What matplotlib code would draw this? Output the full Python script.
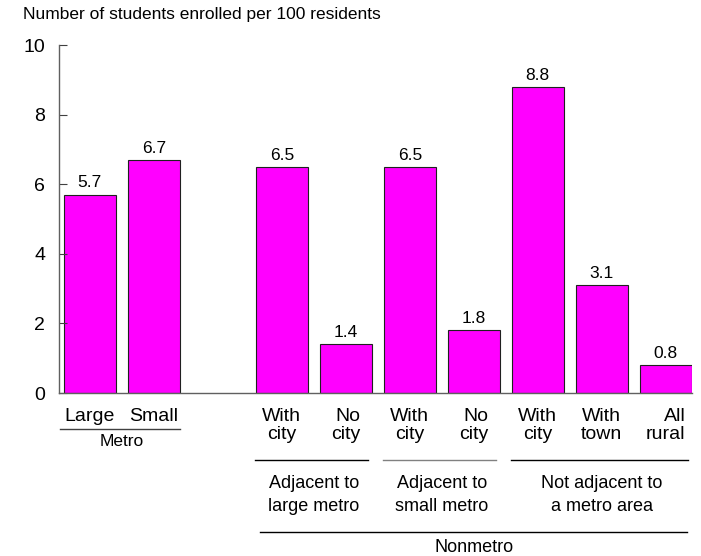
import matplotlib.pyplot as plt
from matplotlib.transforms import blended_transform_factory

plt.rcParams['font.family'] = ['Liberation Sans', 'DejaVu Sans']

# data
positions = [0, 1, 3, 4, 5, 6, 7, 8, 9]
values = [5.7, 6.7, 6.5, 1.4, 6.5, 1.8, 8.8, 3.1, 0.8]
bar_labels = ['Large', 'Small', 'With\ncity', 'No\ncity', 'With\ncity', 'No\ncity',
              'With\ncity', 'With\ntown', 'All\nrural']
label_align = ['center', 'center', 'center', 'right', 'center', 'right',
               'center', 'center', 'right']
groups = ['Adjacent to\nlarge metro', 'Adjacent to\nsmall metro', 'Not adjacent to\na metro area']
group_members = [(2, 3), (4, 5), (6, 8)]
group_line_colors = ['black', '#808080', 'black']

W, H = 701, 556
width = 0.81

fig = plt.figure(figsize=(W / 100, H / 100), dpi=100)
ax = fig.add_axes([59 / W, 1 - 393 / H, (692 - 59) / W, (393 - 45) / H])

bars = ax.bar(positions, values, width=width, color='#FF00FF', edgecolor='#202020', linewidth=0.8)
for p, v in zip(positions, values):
    ax.annotate(f'{v}', (p, v), xytext=(0, 3), textcoords='offset points',
                ha='center', va='bottom', fontsize=12.5)

ax.set_xlim(positions[0] - width / 2 - 0.077, positions[-1] + width / 2 + 0.005)
ax.set_ylim(0, 10)
ax.set_yticks([0, 2, 4, 6, 8, 10])
ax.tick_params(axis='y', direction='in', length=6, width=0.8, color='#404040',
               labelsize=14, pad=10)
ax.tick_params(axis='x', length=0)
ax.set_xticks([])
for s in ['top', 'right']:
    ax.spines[s].set_visible(False)
for s in ['left', 'bottom']:
    ax.spines[s].set_color('#606060')
    ax.spines[s].set_linewidth(1.0)

fig.text(23 / W, 1 - 15 / H, 'Number of students enrolled per 100 residents',
         fontsize=12.5, ha='left', va='center')

tr = blended_transform_factory(ax.transData, fig.transFigure)


def fy(py):
    return 1 - py / H


for p, lab, al in zip(positions, bar_labels, label_align):
    ax.text(p, fy(408), lab, transform=tr, ha='center', va='top', fontsize=14,
            multialignment=al, linespacing=1.1)

# metro
ax.plot([positions[0] - width / 2 - 0.06, positions[1] + width / 2], [fy(429), fy(429)],
        transform=tr, color='#404040', lw=1, clip_on=False)
ax.text((positions[0] + positions[1]) / 2, fy(441), 'Metro', transform=tr,
        ha='center', va='center', fontsize=12.5)

# nonmetro subgroups
for (a, b), g, c in zip(group_members, groups, group_line_colors):
    x0 = positions[a] - width / 2 - 0.02
    x1 = positions[b] + width / 2 - 0.06
    ax.plot([x0, x1], [fy(460), fy(460)], transform=tr, color=c, lw=1, clip_on=False)
    ax.text((positions[a] + positions[b]) / 2, fy(495), g, transform=tr,
            ha='center', va='center', fontsize=13, linespacing=1.45)

ax.plot([positions[2] - width / 2 + 0.06, positions[-1] + width / 2 - 0.07], [fy(532), fy(532)],
        transform=tr, color='black', lw=1, clip_on=False)
ax.text((positions[2] + positions[-1]) / 2, fy(548), 'Nonmetro', transform=tr,
        ha='center', va='center', fontsize=13)

fig.savefig('out.png', dpi=100)
